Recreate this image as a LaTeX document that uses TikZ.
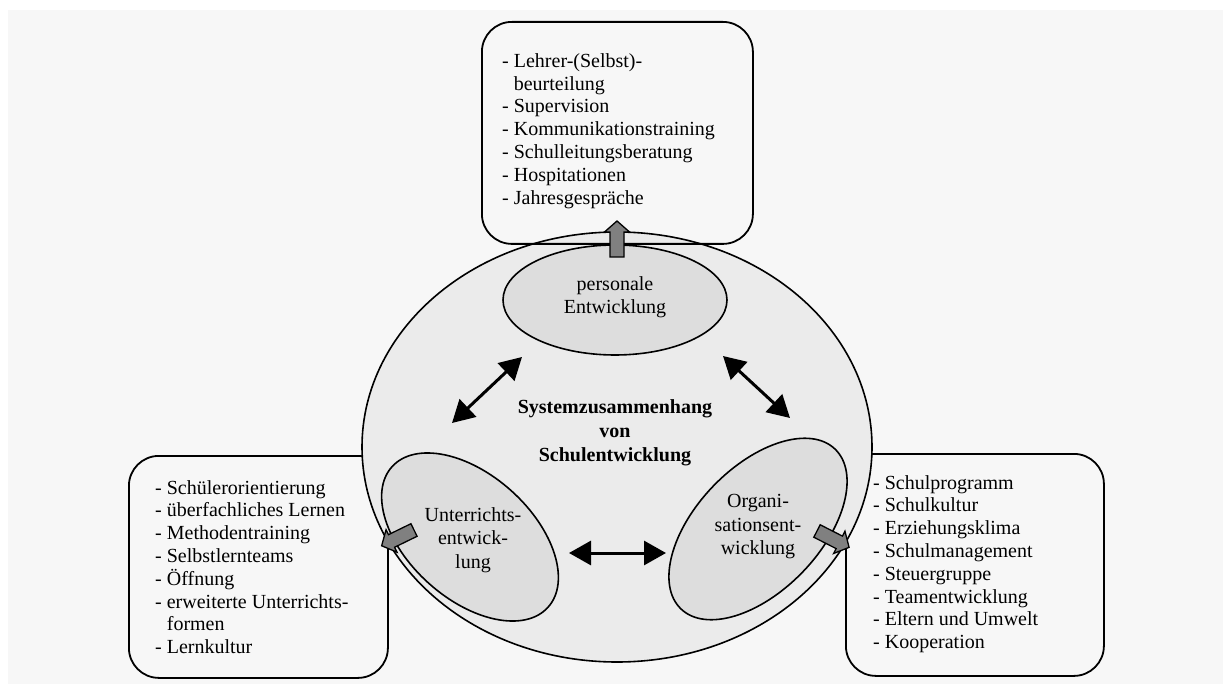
\documentclass[tikz,border=0pt]{standalone}
\usepackage{fontspec}
\setmainfont{Liberation Serif}
\usetikzlibrary{arrows.meta}
\definecolor{pagegray}{HTML}{F7F7F7}
\definecolor{outerfill}{HTML}{EBEBEB}
\definecolor{innerfill}{HTML}{DDDDDD}
\definecolor{blockgray}{HTML}{808080}
% indent for continuation lines of a list item
\newcommand\cont{\hphantom{-\ }}

\begin{document}
\begin{tikzpicture}[x=1pt,y=1pt,
  listbox/.style={draw, line width=1.8pt, rounded corners=30pt, inner sep=0pt, anchor=north west},
  listtext/.style={font=\fontsize{20}{22.8}\selectfont, inner sep=0pt, align=left, anchor=west},
  fieldtext/.style={font=\fontsize{20}{23.5}\selectfont, inner sep=0pt, align=center},
  field/.style={draw, line width=1.6pt, fill=innerfill},
  link/.style={line width=3pt, {Triangle[length=22pt,width=24pt]}-{Triangle[length=22pt,width=24pt]}},
  pics/blockarrow/.style={code={
    \draw[line width=1.3pt, fill=blockgray, line join=miter]
      (0,-7) -- (25,-7) -- (25,-12.5) -- (36,0) -- (25,12.5) -- (25,7) -- (0,7) -- cycle;}}
]
\useasboundingbox (0,0) rectangle (1223,-684);
\fill[white] (0,0) rectangle (1223,-684);
\fill[pagegray] (8,-10) rectangle (1223,-684);

% side boxes, partly hidden behind the system ellipse
\node[listbox, fill=pagegray, minimum width=259pt, minimum height=222pt] (lbox) at (128,-455) {};
\node[listbox, fill=pagegray, minimum width=258pt, minimum height=222pt] (rbox) at (845,-453) {};

% the system as a whole
\draw[line width=1.6pt, fill=outerfill] (617,-447) ellipse [x radius=255, y radius=215];

% the three fields of development
\draw[field] (615,-300) ellipse [x radius=112, y radius=55];
\draw[field, rotate around={-42:(470,-537)}] (470,-537) ellipse [x radius=105, y radius=62];
\draw[field, rotate around={46:(758,-529)}] (758,-529) ellipse [x radius=111, y radius=62];

\node[fieldtext] (pe) at (615,-297) {personale\\Entwicklung};
\node[fieldtext] (ue) at (473,-540) {Unterrichts-\\entwick-\\lung};
\node[fieldtext] (oe) at (758,-527) {Organi-\\sationsent-\\wicklung};
\node[fieldtext, font=\fontsize{20}{24}\selectfont\bfseries] (sys) at (615,-433)
  {Systemzusammenhang\\von\\Schulentwicklung};

% top box
\node[listbox, minimum width=271pt, minimum height=222pt] (tbox) at (481,-21) {};

% mutual influence between the fields
\coordinate (pl) at (522,-357);
\coordinate (ul) at (452,-423);
\coordinate (pr) at (723,-356);
\coordinate (ol) at (790,-418);
\coordinate (uh) at (569,-553);
\coordinate (oh) at (666,-553);
\draw[link] (ul) -- (pl);
\draw[link] (pr) -- (ol);
\draw[link] (uh) -- (oh);

% list contents
\node[listtext] (tlist) at (502,-131) {- Lehrer-(Selbst)-\\\cont beurteilung\\- Supervision\\- Kommunikationstraining\\- Schulleitungsberatung\\- Hospitationen\\- Jahresgespräche};
\node[listtext] (llist) at (155,-567) {- Schülerorientierung\\- überfachliches Lernen\\- Methodentraining\\- Selbstlernteams\\- Öffnung\\- erweiterte Unterrichts-\\\cont formen\\- Lernkultur};
\node[listtext] (rlist) at (873,-564) {- Schulprogramm\\- Schulkultur\\- Erziehungsklima\\- Schulmanagement\\- Steuergruppe\\- Teamentwicklung\\- Eltern und Umwelt\\- Kooperation};

% block arrows from the fields to their lists
\pic[rotate=90] at (617,-257) {blockarrow};
\pic[rotate=206] at (414,-530) {blockarrow};
\pic[rotate=-27] at (817,-531) {blockarrow};
\end{tikzpicture}
\end{document}
